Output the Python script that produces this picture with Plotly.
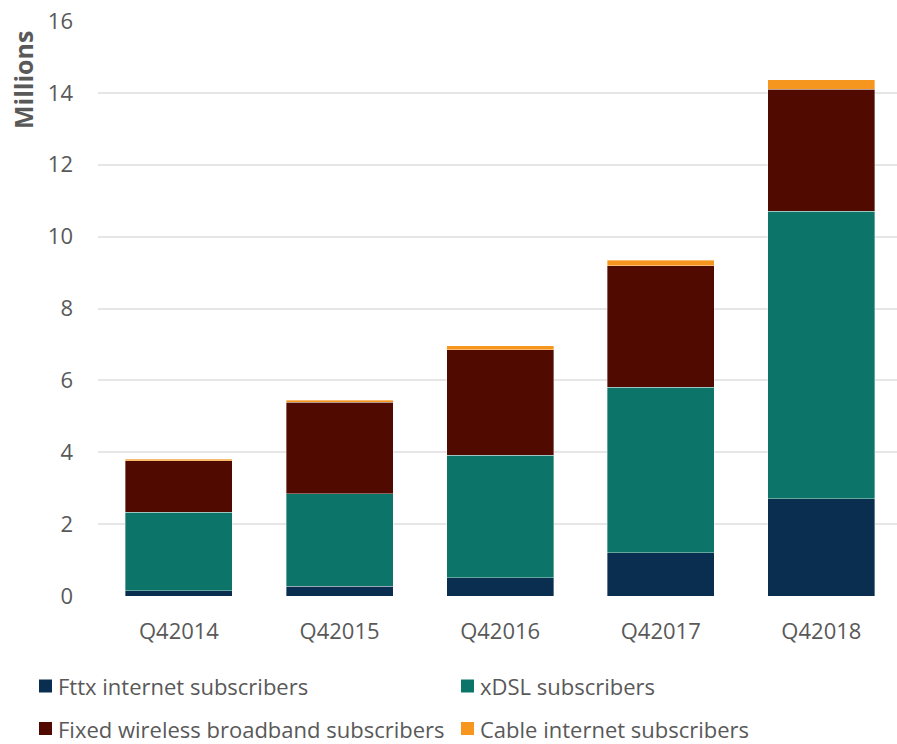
import plotly.graph_objects as go

quarters = ["Q42014", "Q42015", "Q42016", "Q42017", "Q42018"]
fttx = [0.15, 0.27, 0.51, 1.21, 2.71]
xdsl = [2.18, 2.57, 3.40, 4.60, 7.99]
fixed_wireless = [1.43, 2.55, 2.94, 3.38, 3.40]
cable = [0.04, 0.06, 0.12, 0.15, 0.26]
y_ticks = [0, 2, 4, 6, 8, 10, 12, 14, 16]

FONT = "Open Sans"
GREY = "#595959"
W, H = 897, 744
M_L, M_R, M_T, M_B = 98, 0, 21, 148
PLOT_W = W - M_L - M_R
PLOT_H = H - M_T - M_B

series = [
    ("Fttx internet subscribers", fttx, "#0A2E4F"),
    ("xDSL subscribers", xdsl, "#0C7468"),
    ("Fixed wireless broadband subscribers", fixed_wireless, "#500A00"),
    ("Cable internet subscribers", cable, "#F7961E"),
]


def px_x(px):
    return (px - M_L) / PLOT_W


def px_y(py):
    return (H - M_B - py) / PLOT_H


fig = go.Figure()
for name, vals, color in series:
    fig.add_trace(go.Bar(
        x=quarters, y=vals, name=name, showlegend=False,
        marker=dict(color=color, line=dict(color="rgba(255,255,255,0.45)", width=0.8)),
    ))

# Two-column legend laid out below the plot: (left px of swatch, centre y px)
slots = [(39, 686), (461, 686), (39, 728.5), (461, 728.5)]
shapes, annotations = [], []
for (name, _, color), (sx, sy) in zip(series, slots):
    shapes.append(dict(
        type="rect", xref="paper", yref="paper",
        x0=px_x(sx), x1=px_x(sx + 13), y0=px_y(sy - 6.5), y1=px_y(sy + 6.5),
        fillcolor=color, line=dict(width=0),
    ))
    annotations.append(dict(
        text=name, xref="paper", yref="paper",
        x=px_x(sx + 17), y=px_y(sy), xanchor="left", yanchor="middle",
        showarrow=False, font=dict(family=FONT, size=22, color=GREY),
    ))

annotations.append(dict(
    text="<b>Millions</b>", textangle=-90,
    xref="paper", yref="paper", x=px_x(23), y=px_y(80),
    xanchor="center", yanchor="middle", showarrow=False,
    font=dict(family=FONT, size=25, color=GREY),
))

fig.update_layout(
    width=W, height=H,
    margin=dict(l=M_L, r=M_R, t=M_T, b=M_B),
    barmode="stack", bargap=0.334,
    plot_bgcolor="white", paper_bgcolor="white",
    font=dict(family=FONT, color=GREY),
    showlegend=False,
    xaxis=dict(
        range=[-0.504, 4.471],
        tickfont=dict(family=FONT, size=22, color=GREY),
        showgrid=False, zeroline=False, showline=False, ticks="",
        ticklabelstandoff=20,
    ),
    yaxis=dict(
        range=[0, 16], tickvals=y_ticks,
        tickfont=dict(family=FONT, size=22, color=GREY),
        showgrid=True, gridcolor="#E6E6E6", gridwidth=2,
        zeroline=False, showline=False, ticks="",
        ticklabelstandoff=24,
    ),
    shapes=shapes,
    annotations=annotations,
)

fig.write_html("out.html")
